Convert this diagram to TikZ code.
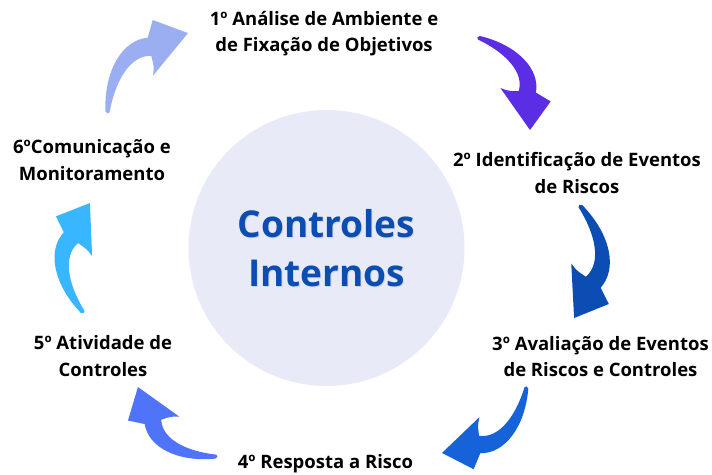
\documentclass[tikz,border=0pt]{standalone}
\usepackage{fontspec}
\setmainfont{Open Sans}
\definecolor{circfill}{HTML}{E8EBF7}
\definecolor{coretext}{HTML}{0B4DB0}
\definecolor{acolA}{HTML}{9CAEF2}
\definecolor{acolB}{HTML}{5B2EE6}
\definecolor{acolC}{HTML}{0C4DB3}
\definecolor{acolD}{HTML}{1662D8}
\definecolor{acolE}{HTML}{4F74FA}
\definecolor{acolF}{HTML}{38B6FF}
\newcommand{\swoosh}[4]{%
  \begin{scope}[shift={(#1)}, rotate=#2, scale=#3, yscale=-1]
    \fill[#4] (0,0.02) .. controls (0.25,0.29) and (0.55,0.36) .. (0.72,0.22)
      -- (0.86,0.30) -- (1,0) -- (0.52,-0.05)
      .. controls (0.58,0.00) .. (0.63,0.085)
      .. controls (0.50,0.22) and (0.25,0.15) .. (0.02,-0.012)
      .. controls (0.005,-0.02) and (-0.01,0.006) .. cycle;
  \end{scope}}
\begin{document}
\begin{tikzpicture}[x=1pt,y=-1pt,
  lbl/.style={align=center, font=\fontsize{18.5}{26.5}\selectfont\bfseries, text=black, inner sep=0pt},
  coretxt/.style={align=center, font=\fontsize{37}{49}\selectfont\bfseries, inner sep=0pt}]
\useasboundingbox (0,0) rectangle (712,474);
\node[circle, fill=circfill, minimum size=276pt, inner sep=0pt] (core) at (326.5,248) {};
\node[coretxt, text=black!25, opacity=0.5] (coreshadow) at (327.5,249.5) {Controles\\Internos};
\node[coretxt, text=coretext] (coretitle) at (326.5,248) {Controles\\Internos};
\node[lbl] (s1) at (324,33.5) {1º Análise de Ambiente e\\de Fixação de Objetivos};
\node[lbl] (s2) at (577,173) {2º Identificação de Eventos\\de Riscos};
\node[lbl] (s3) at (600.5,356.5) {3º Avaliação de Eventos\\de Riscos e Controles};
\node[lbl] (s4) at (325.5,464) {4º Resposta a Risco};
\node[lbl] (s5) at (103,356) {5º Atividade de\\Controles};
\node[lbl] (s6) at (92,160) {6ºComunicação e\\Monitoramento};
\coordinate (t1) at (107,113);
\coordinate (t2) at (478,37);
\coordinate (t3) at (580,205);
\coordinate (t4) at (527,387);
\coordinate (t5) at (217,457);
\coordinate (t6) at (83,313);
\swoosh{t1}{44.6}{113.8}{acolA}
\swoosh{t2}{-60.8}{106.6}{acolB}
\swoosh{t3}{-93.0}{113.2}{acolC}
\swoosh{t4}{-142.2}{107.6}{acolD}
\swoosh{t5}{138.5}{105.6}{acolE}
\swoosh{t6}{86.4}{110.2}{acolF}
\end{tikzpicture}
\end{document}
